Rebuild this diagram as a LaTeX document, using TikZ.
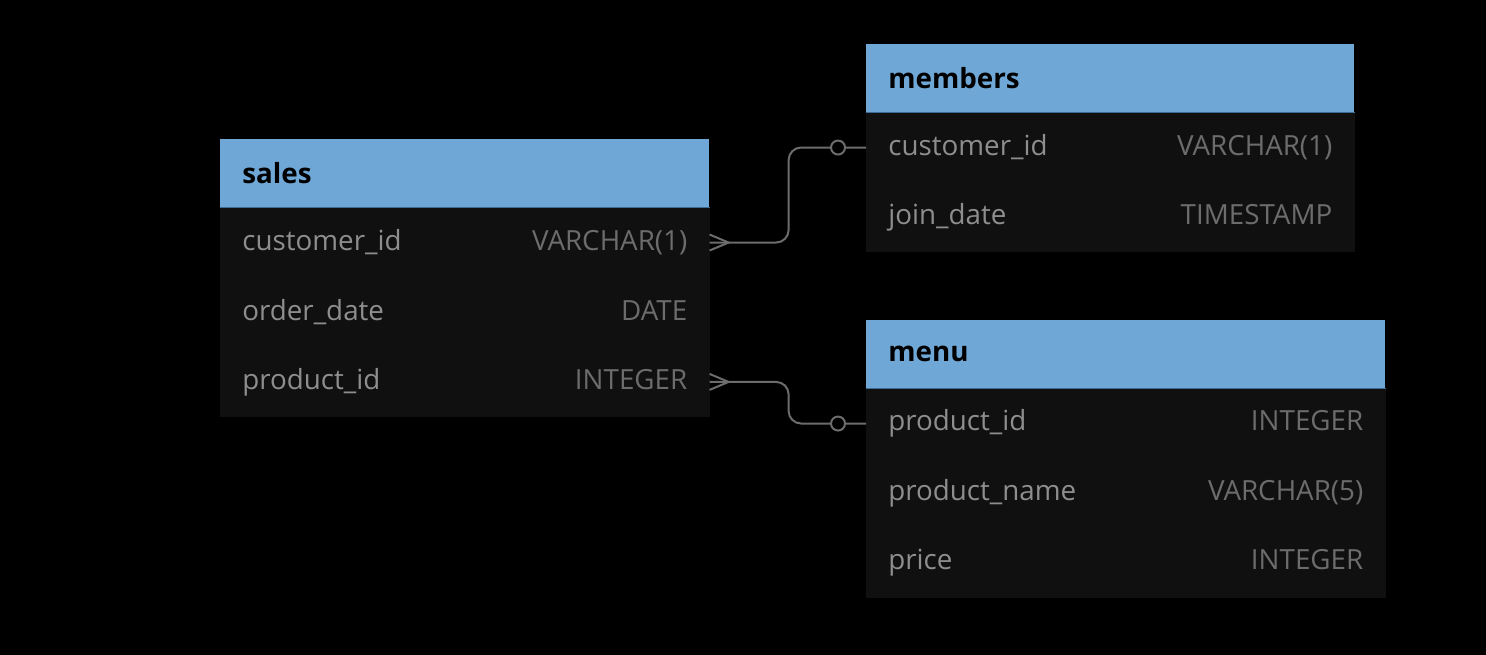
\documentclass[tikz,border=0pt]{standalone}
\usepackage{fontspec}
\setmainfont{Open Sans}
\usepackage{tikz}
\usetikzlibrary{positioning}

\definecolor{headblue}{HTML}{6FA8D6}
\definecolor{headline}{HTML}{3E6C93}
\definecolor{rowbg}{HTML}{101010}
\definecolor{namegray}{HTML}{8E8E8E}
\definecolor{typegray}{HTML}{6C6C6C}
\definecolor{conngray}{HTML}{6C6C6C}

\tikzset{
  head/.style={fill=headblue, draw=none, text=black, font=\fontsize{15.8}{19}\selectfont\bfseries,
    inner xsep=0.44cm, inner ysep=0pt, minimum height=1.36cm, align=left},
  row/.style={fill=rowbg, draw=rowbg, line width=0.4pt, text=namegray, font=\fontsize{15.8}{19}\selectfont,
    inner xsep=0.44cm, inner ysep=0pt, minimum height=1.38cm, align=left},
  conn/.style={draw=conngray, line width=0.04cm},
}
\newcommand{\coltype}[1]{\hfill\textcolor{typegray}{#1}}

\begin{document}
\begin{tikzpicture}[x=0.02cm, y=-0.02cm]
        \fill[black] (0,0) rectangle (1486,655);
        \useasboundingbox (0,0) rectangle (1486,655);

        % sales
        \node[head, text width=8.9cm, anchor=north west] (sales) at (220,139) {sales};
        \node[row, text width=8.9cm, below=0pt of sales] (sales-cid) {customer\_id\coltype{VARCHAR(1)}};
        \node[row, text width=8.9cm, below=0pt of sales-cid] (sales-date) {order\_date\coltype{DATE}};
        \node[row, text width=8.9cm, below=0pt of sales-date] (sales-pid) {product\_id\coltype{INTEGER}};
        \draw[headline, line width=0.6pt] (sales.south west) -- (sales.south east);

        % members
        \node[head, text width=8.88cm, anchor=north west] (members) at (866,44) {members};
        \node[row, text width=8.88cm, below=0pt of members] (members-cid) {customer\_id\coltype{VARCHAR(1)}};
        \node[row, text width=8.88cm, below=0pt of members-cid] (members-date) {join\_date\coltype{TIMESTAMP}};
        \draw[headline, line width=0.6pt] (members.south west) -- (members.south east);

        % menu
        \node[head, text width=9.5cm, anchor=north west] (menu) at (866,320) {menu};
        \node[row, text width=9.5cm, below=0pt of menu] (menu-pid) {product\_id\coltype{INTEGER}};
        \node[row, text width=9.5cm, below=0pt of menu-pid] (menu-name) {product\_name\coltype{VARCHAR(5)}};
        \node[row, text width=9.5cm, below=0pt of menu-name] (menu-price) {price\coltype{INTEGER}};
        \draw[headline, line width=0.6pt] (menu.south west) -- (menu.south east);

        % relations
        \draw[conn, rounded corners=0.25cm] (sales-cid.east) -- ++(79,0) |- (members-cid.west);
        \draw[conn] ([yshift=0.16cm]sales-cid.east) -- ++(19,8) -- ([yshift=-0.16cm]sales-cid.east);
        \draw[conn, fill=black] ([xshift=-0.56cm]members-cid.west) circle (0.14cm);

        \draw[conn, rounded corners=0.25cm] (sales-pid.east) -- ++(79,0) |- (menu-pid.west);
        \draw[conn] ([yshift=0.16cm]sales-pid.east) -- ++(19,8) -- ([yshift=-0.16cm]sales-pid.east);
        \draw[conn, fill=black] ([xshift=-0.56cm]menu-pid.west) circle (0.14cm);
\end{tikzpicture}
\end{document}
